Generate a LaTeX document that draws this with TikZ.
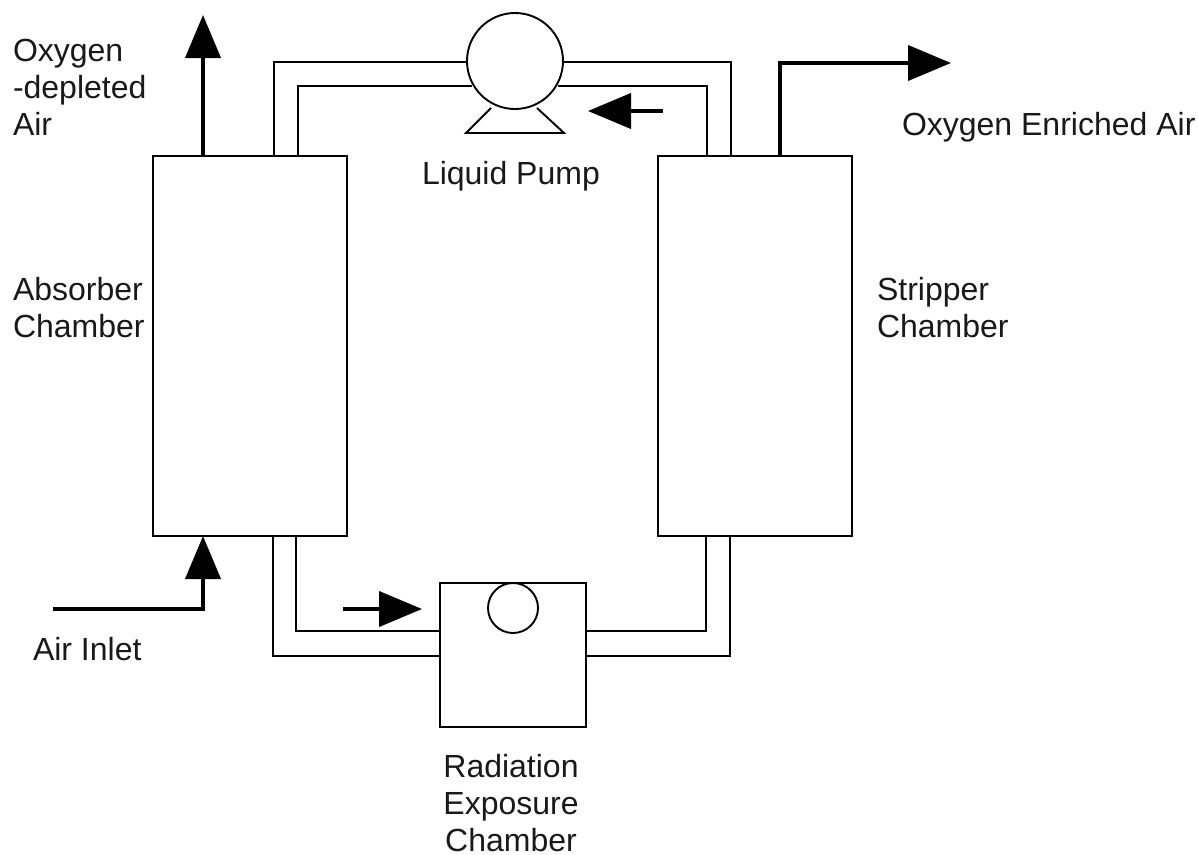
\documentclass[tikz,border=0pt]{standalone}
\usepackage{fontspec}
\setmainfont{Liberation Sans}
\usetikzlibrary{arrows.meta,calc}
\tikzset{
  unit/.style={draw=black,line width=1.9pt,fill=white,inner sep=0pt,outer sep=0pt},
  pipe/.style={draw=black,line width=1.9pt},
  flow/.style={draw=black,line width=4pt,-{Triangle[length=43pt,width=35pt,fill=black]}},
  lab/.style={inner sep=0pt,outer sep=0pt,font=\fontsize{32}{37}\selectfont,align=left,text=black!90},
}
\begin{document}
\begin{tikzpicture}[x=1pt,y=-1pt]
\useasboundingbox (0,0) rectangle (1198,854);
% units
\node[unit,minimum width=194pt,minimum height=380pt] (abs) at (250,346) {};
\node[unit,minimum width=194pt,minimum height=380pt] (str) at (755,346) {};
\node[unit,minimum width=146pt,minimum height=144pt] (rad) at (513,655) {};
\node[unit,circle,minimum size=50pt] (radc) at (513,608) {};
\node[unit,circle,minimum size=96pt] (pump) at (515,61) {};
% pipe junction points
\coordinate (ato) at (274,62);  \coordinate (ati) at (298,86);
\coordinate (sto) at (731,62);  \coordinate (sti) at (707,86);
\coordinate (abo) at (273,656); \coordinate (abi) at (296,631);
\coordinate (sbo) at (730,656); \coordinate (sbi) at (706,631);
% pipes
\draw[pipe] (abs.north -| ato) -- (ato) -- (ato -| pump.west);
\draw[pipe] (abs.north -| ati) -- (ati) -- (472,86);
\draw[pipe] (str.north -| sto) -- (sto) -- (sto -| pump.east);
\draw[pipe] (str.north -| sti) -- (sti) -- (558,86);
\draw[pipe] (abs.south -| abo) -- (abo) -- (abo -| rad.west);
\draw[pipe] (abs.south -| abi) -- (abi) -- (abi -| rad.west);
\draw[pipe] (str.south -| sbo) -- (sbo) -- (sbo -| rad.east);
\draw[pipe] (str.south -| sbi) -- (sbi) -- (sbi -| rad.east);
% pump feet
\coordinate (fl) at (491,108); \coordinate (fr) at (537,108);
\coordinate (bl) at (466,133); \coordinate (br) at (564,133);
\draw[pipe,line join=miter] (fl) -- (bl) -- (br) -- (fr);
% flows
\coordinate (o1) at (203,15);
\draw[flow] (abs.north -| o1) -- (o1);
\coordinate (o2a) at (780,63); \coordinate (o2) at (951,63);
\draw[flow] (str.north -| o2a) -- (o2a) -- (o2);
\coordinate (in0) at (53,609); \coordinate (in1) at (203,609);
\draw[flow] (in0) -- (in1) -- (abs.south -| in1);
\coordinate (d1a) at (663,111); \coordinate (d1b) at (588,111);
\draw[flow] (d1a) -- (d1b);
\coordinate (d2a) at (343,609); \coordinate (d2b) at (422,609);
\draw[flow] (d2a) -- (d2b);
% labels
\node[lab,anchor=north west] (l1) at (13,39) {Oxygen\\-depleted\\Air};
\node[lab,anchor=base west] (l2) at (902,135) {Oxygen Enriched Air};
\node[lab,anchor=base west] (l3) at (422,184) {Liquid Pump};
\node[lab,anchor=north west] (l4) at (13,277) {Absorber\\Chamber};
\node[lab,anchor=north west] (l5) at (877,277) {Stripper\\Chamber};
\node[lab,anchor=base west] (l6) at (33,660) {Air Inlet};
\node[lab,anchor=north,align=center] (l7) at (511,754) {Radiation\\Exposure\\Chamber};
\end{tikzpicture}
\end{document}
